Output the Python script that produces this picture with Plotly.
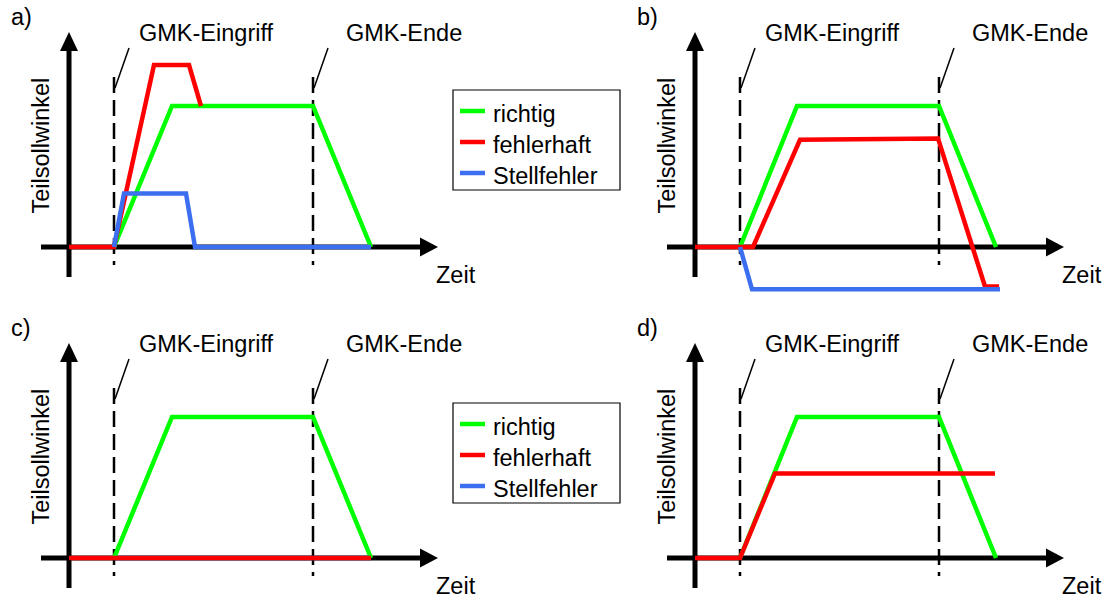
import plotly.graph_objects as go

# ---------------- data (time in arbitrary units, angle normalised to the correct plateau) -------------
panels = ["a)", "b)", "c)", "d)"]
series_names = ["richtig", "fehlerhaft", "Stellfehler"]

# panel a
a_richtig_t = [4.5, 10.3, 24.4, 30.2]
a_richtig_v = [0, 1, 1, 0]
a_fehler_t = [0, 4.5, 8.5, 12.0, 13.2]
a_fehler_v = [0, 0, 1.29, 1.29, 1.0]
a_stell_t = [4.5, 5.5, 11.7, 12.6, 30.2]
a_stell_v = [0, 0.38, 0.38, 0, 0]

# panel b
b_richtig_t = [4.5, 10.2, 24.4, 30.1]
b_richtig_v = [0, 1, 1, 0]
b_fehler_t = [0, 5.8, 10.5, 24.3, 29.0, 30.4]
b_fehler_v = [0, 0, 0.76, 0.77, -0.28, -0.28]
b_stell_t = [4.5, 5.7, 30.5]
b_stell_v = [0, -0.30, -0.30]

# panel c
c_richtig_t = [4.5, 10.3, 24.4, 30.2]
c_richtig_v = [0, 1, 1, 0]
c_fehler_t = [0, 30.2]
c_fehler_v = [0, 0]
c_stell_t = [4.5, 30.2]
c_stell_v = [0, 0]

# panel d
d_richtig_t = [4.5, 10.2, 24.4, 30.1]
d_richtig_v = [0, 1, 1, 0]
d_fehler_t = [0, 4.5, 8.0, 30.0]
d_fehler_v = [0, 0, 0.60, 0.60]

event_times = [4.5, 24.4]          # GMK-Eingriff, GMK-Ende
event_labels = ["GMK-Eingriff", "GMK-Ende"]
event_label_t = [13.7, 33.5]
x_label = "Zeit"
y_label = "Teilsollwinkel"

# ---------------- layout geometry ----------------
W, H = 1105, 598
SX, SY = 10.0, 141.0   # px per unit
FONT = "Liberation Sans, Arial, sans-serif"
FS = 23.5
COLORS = {"richtig": "#00FF00", "fehlerhaft": "#FF0000", "Stellfehler": "#3C6EF0"}

# (x-domain px, y-domain px, origin px)
geo = [
    ((0, 552), (0, 299), (69, 247)),
    ((553, 1105), (0, 299), (695, 247)),
    ((0, 552), (299, 598), (69, 558)),
    ((553, 1105), (299, 598), (695, 558)),
]

fig = go.Figure()
layout = dict(width=W, height=H, margin=dict(l=0, r=0, t=0, b=0),
              paper_bgcolor="white", plot_bgcolor="rgba(0,0,0,0)", showlegend=False,
              font=dict(family=FONT, size=FS, color="black"))

for i, ((xl, xr), (yt, yb), (ox, oy)) in enumerate(geo):
    n = "" if i == 0 else str(i + 1)
    layout["xaxis" + n] = dict(domain=[xl / W, xr / W], range=[(xl - ox) / SX, (xr - ox) / SX],
                               visible=False, anchor="y" + n, fixedrange=True)
    layout["yaxis" + n] = dict(domain=[1 - yb / H, 1 - yt / H], range=[(oy - yb) / SY, (oy - yt) / SY],
                               visible=False, anchor="x" + n, fixedrange=True)

# per panel, in drawing order (name, t, v)
data = [
    [("richtig", a_richtig_t, a_richtig_v), ("fehlerhaft", a_fehler_t, a_fehler_v),
     ("Stellfehler", a_stell_t, a_stell_v)],
    [("richtig", b_richtig_t, b_richtig_v), ("fehlerhaft", b_fehler_t, b_fehler_v),
     ("Stellfehler", b_stell_t, b_stell_v)],
    [("richtig", c_richtig_t, c_richtig_v), ("Stellfehler", c_stell_t, c_stell_v),
     ("fehlerhaft", c_fehler_t, c_fehler_v)],
    [("richtig", d_richtig_t, d_richtig_v), ("fehlerhaft", d_fehler_t, d_fehler_v)],
]

for i, series in enumerate(data):
    n = "" if i == 0 else str(i + 1)
    for name, t, v in series:
        fig.add_trace(go.Scatter(x=t, y=v, mode="lines", name=name, xaxis="x" + n, yaxis="y" + n,
                                 line=dict(color=COLORS[name], width=4.5), hoverinfo="skip"))

shapes, annotations = [], []
for i, label in enumerate(panels):
    n = "" if i == 0 else str(i + 1)
    xr, yr = "x" + n, "y" + n
    # axes
    shapes.append(dict(type="line", xref=xr, yref=yr, x0=0, x1=0, y0=-0.213, y1=1.39,
                       line=dict(color="black", width=5), layer="below"))
    shapes.append(dict(type="line", xref=xr, yref=yr, x0=-2.8, x1=35.1, y0=0, y1=0,
                       line=dict(color="black", width=5), layer="below"))
    shapes.append(dict(type="path", xref=xr, yref=yr, xsizemode="pixel", ysizemode="pixel",
                       xanchor=0, yanchor=1.525, path="M0,0 L9,-19 L-9,-19 Z",
                       fillcolor="black", line=dict(width=0), layer="below"))
    shapes.append(dict(type="path", xref=xr, yref=yr, xsizemode="pixel", ysizemode="pixel",
                       xanchor=36.9, yanchor=0, path="M0,0 L-18,9.5 L-18,-9.5 Z",
                       fillcolor="black", line=dict(width=0), layer="below"))
    for et, el, elt in zip(event_times, event_labels, event_label_t):
        shapes.append(dict(type="line", xref=xr, yref=yr, x0=et, x1=et, y0=1.206, y1=-0.128,
                           line=dict(color="black", width=2.5, dash="16px,7px"), layer="below"))
        shapes.append(dict(type="line", xref=xr, yref=yr, x0=et + 0.1, x1=et + 1.5, y0=1.128, y1=1.411,
                           line=dict(color="black", width=1.5), layer="below"))
        annotations.append(dict(xref=xr, yref=yr, x=elt, y=1.518, text=el, showarrow=False,
                                xanchor="center", yanchor="middle"))
    annotations.append(dict(xref=xr, yref=yr, x=-4.8, y=1.63, text=label, showarrow=False,
                            xanchor="center", yanchor="middle"))
    annotations.append(dict(xref=xr, yref=yr, x=38.7, y=-0.199, text=x_label, showarrow=False,
                            xanchor="center", yanchor="middle"))
    annotations.append(dict(xref=xr, yref=yr, x=-2.8, y=0.72, text=y_label, showarrow=False,
                            textangle=-90, xanchor="center", yanchor="middle"))

# legend boxes (drawn next to panels a and c), in paper pixels
legend_tops = [90, 403]
ROW = 31
for top in legend_tops:
    shapes.append(dict(type="rect", xref="paper", yref="paper", x0=453 / W, x1=620 / W,
                       y0=1 - top / H, y1=1 - (top + 100) / H,
                       line=dict(color="black", width=1.2), fillcolor="white"))
    for k, name in enumerate(series_names):
        yc = top + 21 + k * ROW
        shapes.append(dict(type="line", xref="paper", yref="paper", x0=460 / W, x1=485 / W,
                           y0=1 - yc / H, y1=1 - yc / H,
                           line=dict(color=COLORS[name], width=4.5)))
        annotations.append(dict(xref="paper", yref="paper", x=491 / W, y=1 - (yc + 2.6) / H,
                                text=name, showarrow=False, xanchor="left", yanchor="middle"))

layout["shapes"] = shapes
layout["annotations"] = annotations
fig.update_layout(**layout)

fig.write_html("out.html", config={"displayModeBar": False})
